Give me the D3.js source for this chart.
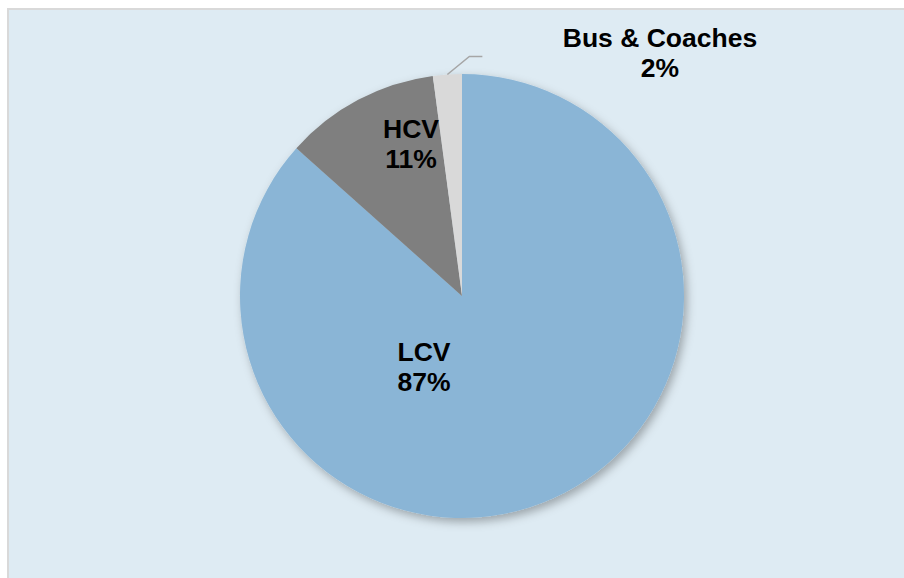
<!DOCTYPE html>
<html><head><meta charset="utf-8">
<script src="https://cdn.jsdelivr.net/npm/d3@7"></script>
<style>html,body{margin:0;padding:0;background:#fff;}svg{display:block;}</style>
</head><body>
<svg id="chart" width="904" height="578"></svg>
<script>
const categories = ["LCV", "HCV", "Bus & Coaches"];
const values = [86.6, 11.3, 2.1];
const colors = ["#8AB5D6", "#7F7F7F", "#D9D9D9"];

const svg = d3.select("#chart");
const W = 904, H = 578;
const cx = 462, cy = 296, R = 222;

// background panel with border
svg.append("rect").attr("x", 8).attr("y", 9).attr("width", W).attr("height", H)
  .attr("fill", "#DEEBF3").attr("stroke", "#D9D9D9").attr("stroke-width", 2);

const defs = svg.append("defs");
const f = defs.append("filter").attr("id", "shadow").attr("x", "-20%").attr("y", "-20%").attr("width", "140%").attr("height", "140%");
f.append("feDropShadow").attr("dx", 3).attr("dy", 4).attr("stdDeviation", 5)
  .attr("flood-color", "#000").attr("flood-opacity", 0.3);

const data = categories.map((c, i) => ({ cat: c, value: values[i], color: colors[i] }));
const pie = d3.pie().value(d => d.value).sort(null);
const arcs = pie(data);
const arc = d3.arc().innerRadius(0).outerRadius(R);

const g = svg.append("g").attr("transform", `translate(${cx},${cy})`);
g.append("g").attr("filter", "url(#shadow)")
  .selectAll("path").data(arcs).join("path")
  .attr("d", arc).attr("fill", d => d.data.color);

const total = d3.sum(values);
const fmt = v => Math.round(v / total * 100) + "%";

// label anchors (relative to pie center)
const labelPos = {
  "LCV": [-38, 65],
  "HCV": [-51, -158],
  "Bus & Coaches": [198, -249]
};
arcs.forEach(a => {
  const [lx, ly] = labelPos[a.data.cat];
  const t = g.append("text").attr("text-anchor", "middle")
    .attr("font-family", "Liberation Sans, Arial, sans-serif")
    .attr("font-weight", "bold").attr("font-size", 26.5).attr("fill", "#000");
  t.append("tspan").attr("x", lx).attr("y", ly).text(a.data.cat);
  t.append("tspan").attr("x", lx).attr("y", ly + 30).text(fmt(a.data.value));
});

// leader line for small slice
const small = arcs[2];
const mid = (small.startAngle + small.endAngle) / 2;
const p0 = [Math.sin(mid) * R, -Math.cos(mid) * R];
const p1 = [p0[0] + 22, p0[1] - 18];
const p2 = [p1[0] + 13, p1[1]];
g.append("path").attr("d", d3.line()([p0, p1, p2]))
  .attr("fill", "none").attr("stroke", "#A6A6A6").attr("stroke-width", 1.5);
</script>
</body></html>
